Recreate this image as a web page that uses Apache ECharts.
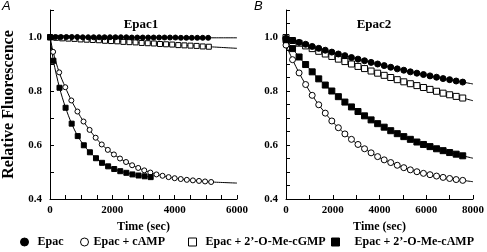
<!DOCTYPE html>
<html>
<head>
<meta charset="utf-8">
<script src="https://cdn.jsdelivr.net/npm/echarts@6/dist/echarts.min.js"></script>
<style>
  html, body { margin: 0; padding: 0; background: #fff; }
  #chart { width: 487px; height: 252px; }
</style>
</head>
<body>
<div id="chart"></div>
<script>
// ---- data ----
const legendNames = ["Epac", "Epac + cAMP", "Epac + 2’-O-Me-cGMP", "Epac + 2’-O-Me-cAMP"];

// panel A (Epac1)
const timeEpacA = [0, 175, 350, 525, 700, 875, 1050, 1225, 1400, 1575, 1750, 1925, 2100, 2275, 2450,
  2625, 2800, 2975, 3150, 3325, 3500, 3675, 3850, 4025, 4200, 4375, 4550, 4725, 4900, 5075];
const epacA = [1.000, 1.000, 1.000, 1.000, 1.000, 1.000, 0.999, 0.999, 0.999, 0.999, 0.999, 0.999, 0.999, 0.999, 0.999,
  0.998, 0.998, 0.998, 0.998, 0.998, 0.998, 0.998, 0.998, 0.998, 0.997, 0.997, 0.997, 0.997, 0.997, 0.997];

const timeCgmpA = [0, 196, 392, 588, 784, 980, 1176, 1372, 1568, 1764, 1960, 2156, 2352, 2548, 2744,
  2940, 3136, 3332, 3528, 3724, 3920, 4116, 4312, 4508, 4704, 4900, 5096];
const cgmpA = [0.998, 0.997, 0.995, 0.994, 0.993, 0.991, 0.990, 0.989, 0.988, 0.986, 0.985, 0.984, 0.982, 0.981,
  0.980, 0.978, 0.977, 0.976, 0.974, 0.973, 0.972, 0.970, 0.969, 0.968, 0.967, 0.965, 0.964];

const timeCampA = [0, 100, 295, 490, 685, 880, 1075, 1270, 1465, 1660, 1855, 2050, 2245, 2440, 2635,
  2830, 3025, 3220, 3415, 3610, 3805, 4000, 4195, 4390, 4585, 4780, 4975, 5170];
const campA = [1.000, 0.945, 0.869, 0.814, 0.765, 0.724, 0.687, 0.656, 0.627, 0.602, 0.582, 0.565, 0.550, 0.537, 0.525,
  0.515, 0.506, 0.498, 0.491, 0.486, 0.481, 0.477, 0.474, 0.471, 0.469, 0.467, 0.465, 0.463];

const timeMeCampA = [0, 110, 305, 500, 695, 890, 1085, 1280, 1475, 1670, 1865, 2060, 2255, 2450, 2645, 2840, 3035, 3230];
const meCampA = [1.000, 0.912, 0.812, 0.738, 0.679, 0.633, 0.599, 0.573, 0.551, 0.534, 0.521, 0.511, 0.503, 0.497,
  0.491, 0.487, 0.484, 0.481];

// fitted curves continue to the end of the time axis
const fitEndTimeA = 6000;
const fitEndA = { epac: 0.997, cgmp: 0.958, camp: 0.459 };

// panel B (Epac2)
const timeB = [0, 280, 560, 840, 1120, 1400, 1680, 1960, 2240, 2520, 2800, 3080, 3360, 3640, 3920,
  4200, 4480, 4760, 5040, 5320, 5600, 5880, 6160, 6440, 6720, 7000, 7280, 7560];
const epacB = [0.995, 0.987, 0.980, 0.973, 0.965, 0.958, 0.951, 0.944, 0.937, 0.931, 0.924, 0.918, 0.912, 0.906,
  0.900, 0.894, 0.888, 0.882, 0.877, 0.871, 0.866, 0.861, 0.856, 0.851, 0.846, 0.842, 0.837, 0.833];
const cgmpB = [0.998, 0.987, 0.977, 0.967, 0.957, 0.947, 0.937, 0.928, 0.918, 0.909, 0.900, 0.891, 0.883, 0.874,
  0.866, 0.858, 0.850, 0.842, 0.834, 0.827, 0.820, 0.813, 0.806, 0.799, 0.792, 0.786, 0.780, 0.774];
const meCampB = [0.990, 0.957, 0.926, 0.898, 0.871, 0.845, 0.822, 0.800, 0.779, 0.759, 0.741, 0.724, 0.708, 0.693,
  0.679, 0.666, 0.653, 0.642, 0.631, 0.621, 0.611, 0.602, 0.594, 0.586, 0.579, 0.572, 0.566, 0.560];
const campB = [0.970, 0.916, 0.867, 0.824, 0.784, 0.749, 0.718, 0.689, 0.664, 0.641, 0.621, 0.602, 0.586, 0.571,
  0.557, 0.545, 0.535, 0.525, 0.516, 0.508, 0.501, 0.495, 0.490, 0.485, 0.480, 0.476, 0.472, 0.469];

const fitEndTimeB = 8000;
const fitEndB = { epac: 0.826, cgmp: 0.764, meCamp: 0.551, camp: 0.464 };

// ---- styling ----
const serif = "'Liberation Serif', 'DejaVu Serif', serif";
const ink = "#000";

const pairs = (ts, vs) => ts.map((t, i) => [t, vs[i]]);

// marker look per legend entry
const looks = {
  [legendNames[0]]: { symbol: "circle", fill: ink },
  [legendNames[1]]: { symbol: "circle", fill: "#fff" },
  [legendNames[2]]: { symbol: "rect", fill: "#fff" },
  [legendNames[3]]: { symbol: "rect", fill: ink },
};

function markers(name, idx, ts, vs, size) {
  const look = looks[name];
  return {
    type: "scatter",
    name,
    xAxisIndex: idx,
    yAxisIndex: idx,
    symbol: look.symbol,
    symbolSize: size,
    itemStyle: { color: look.fill, borderColor: ink, borderWidth: 1, opacity: 1 },
    data: pairs(ts, vs),
    z: 3,
  };
}

function fitLine(idx, ts, vs, endT, endV) {
  const data = pairs(ts, vs);
  if (endV != null) data.push([endT, endV]);
  return {
    type: "line",
    xAxisIndex: idx,
    yAxisIndex: idx,
    showSymbol: false,
    smooth: 0.3,
    silent: true,
    lineStyle: { color: ink, width: 1 },
    data,
    z: 2,
  };
}

const tickLabel = { fontFamily: serif, fontWeight: "bold", fontSize: 11, color: ink };

function xAxis(idx, max, interval) {
  return {
    type: "value",
    gridIndex: idx,
    min: 0,
    max,
    interval,
    name: "Time (sec)",
    nameLocation: "middle",
    nameGap: 21,
    nameTextStyle: { fontFamily: serif, fontWeight: "bold", fontSize: 12, color: ink },
    axisLine: { lineStyle: { color: ink, width: 1 } },
    axisTick: { inside: true, length: 4, lineStyle: { color: ink } },
    axisLabel: { ...tickLabel, margin: 6, formatter: (v) => (v % 2000 === 0 ? String(v) : "") },
    splitLine: { show: false },
  };
}

function yAxis(idx, interval, withName) {
  return {
    type: "value",
    gridIndex: idx,
    min: 0.4,
    max: 1.1,
    interval,
    name: withName ? "Relative Fluorescence" : "",
    nameLocation: "middle",
    nameRotate: 90,
    nameGap: 33,
    nameTextStyle: { fontFamily: serif, fontWeight: "bold", fontSize: 16, color: ink },
    axisLine: { show: true, lineStyle: { color: ink, width: 1 } },
    axisTick: { inside: true, length: 4, lineStyle: { color: ink } },
    axisLabel: {
      ...tickLabel,
      margin: 8,
      formatter: (v) => (Math.round(v * 100) % 20 === 0 ? v.toFixed(1) : ""),
    },
    splitLine: { show: false },
  };
}

function legendAt(name, left, textPad) {
  const look = looks[name];
  return {
    left,
    top: 231,
    itemWidth: 8,
    itemHeight: 8,
    selectedMode: false,
    data: [{ name, icon: look.symbol, itemStyle: { color: look.fill, borderColor: ink, borderWidth: 1, opacity: 1 } }],
    textStyle: { fontFamily: serif, fontWeight: "bold", fontSize: 12, color: ink, padding: [0, 0, 0, textPad] },
  };
}

const chart = echarts.init(document.getElementById("chart"), null, { renderer: "canvas" });
chart.setOption({
  animation: false,
  backgroundColor: "#fff",
  grid: [
    { left: 49, top: 10, width: 188, height: 189 },
    { left: 286, top: 10, width: 190, height: 189 },
  ],
  xAxis: [xAxis(0, 6000, 500), xAxis(1, 8000, 1000)],
  yAxis: [yAxis(0, 0.1, true), yAxis(1, 0.05, false)],
  legend: [
    legendAt(legendNames[0], 15, 4),
    legendAt(legendNames[1], 75, 0),
    legendAt(legendNames[2], 183, 4),
    legendAt(legendNames[3], 326, 10),
  ],
  graphic: [
    { type: "text", left: 2, top: 0, style: { text: "A", fontFamily: "'Liberation Sans', Arial, sans-serif", fontStyle: "italic", fontSize: 13, fill: ink } },
    { type: "text", left: 254, top: 0, style: { text: "B", fontFamily: "'Liberation Sans', Arial, sans-serif", fontStyle: "italic", fontSize: 13, fill: ink } },
    { type: "text", x: 141, y: 25, style: { text: "Epac1", align: "center", verticalAlign: "middle", fontFamily: serif, fontWeight: "bold", fontSize: 13, fill: ink } },
    { type: "text", x: 374, y: 25, style: { text: "Epac2", align: "center", verticalAlign: "middle", fontFamily: serif, fontWeight: "bold", fontSize: 13, fill: ink } },
  ],
  series: [
    fitLine(0, timeEpacA, epacA, fitEndTimeA, fitEndA.epac),
    fitLine(0, timeCgmpA, cgmpA, fitEndTimeA, fitEndA.cgmp),
    fitLine(0, timeCampA, campA, fitEndTimeA, fitEndA.camp),
    fitLine(0, timeMeCampA, meCampA, fitEndTimeA, null),
    markers(legendNames[2], 0, timeCgmpA, cgmpA, 5),
    markers(legendNames[0], 0, timeEpacA, epacA, 5),
    markers(legendNames[1], 0, timeCampA, campA, 5),
    markers(legendNames[3], 0, timeMeCampA, meCampA, 5),

    fitLine(1, timeB, epacB, fitEndTimeB, fitEndB.epac),
    fitLine(1, timeB, cgmpB, fitEndTimeB, fitEndB.cgmp),
    fitLine(1, timeB, meCampB, fitEndTimeB, fitEndB.meCamp),
    fitLine(1, timeB, campB, fitEndTimeB, fitEndB.camp),
    markers(legendNames[2], 1, timeB, cgmpB, 6),
    markers(legendNames[0], 1, timeB, epacB, 6),
    markers(legendNames[1], 1, timeB, campB, 6),
    markers(legendNames[3], 1, timeB, meCampB, 6),
  ],
});
</script>
</body>
</html>
